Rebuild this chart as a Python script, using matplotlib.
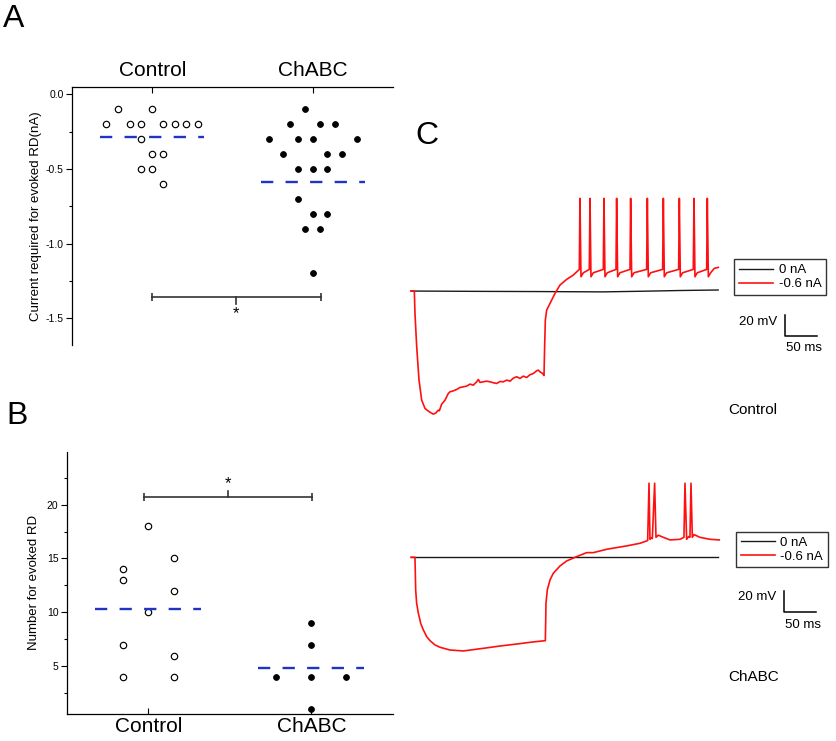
import numpy as np
import matplotlib.pyplot as plt
from matplotlib.ticker import MultipleLocator, FormatStrFormatter
from matplotlib.lines import Line2D

plt.rcParams['font.family'] = ['Liberation Sans', 'DejaVu Sans']
plt.rcParams['axes.unicode_minus'] = False

W, H = 836, 741

###############################################################################
# DATA
###############################################################################
groups = ['Control', 'ChABC']

# panel A: current required for evoked RD (nA), x = group position + jitter
a_ctrl_x = [0.785, 1.0, 0.714, 0.859, 0.93, 1.07, 1.141, 1.213, 1.284,
            0.93, 1.0, 1.07, 0.93, 1.0, 1.07]
a_ctrl_y = [-0.1, -0.1, -0.2, -0.2, -0.2, -0.2, -0.2, -0.2, -0.2,
            -0.3, -0.4, -0.4, -0.5, -0.5, -0.6]
a_chabc_x = [1.952, 1.861, 2.046, 2.137, 1.725, 1.909, 2.0, 2.273,
             1.816, 2.091, 2.182, 1.909, 2.0, 2.091, 1.909, 2.0, 2.091,
             1.952, 2.046, 2.0]
a_chabc_y = [-0.1, -0.2, -0.2, -0.2, -0.3, -0.3, -0.3, -0.3,
             -0.4, -0.4, -0.4, -0.5, -0.5, -0.5, -0.7, -0.8, -0.8,
             -0.9, -0.9, -1.2]
a_means = [-0.287, -0.585]

# panel B: number of evoked RD
b_ctrl_x = [0.843, 0.843, 0.843, 0.843, 1.0, 1.0, 1.16, 1.16, 1.16, 1.16]
b_ctrl_y = [14, 13, 7, 4, 18, 10, 15, 12, 6, 4]
b_chabc_x = [1.785, 2.0, 2.0, 2.0, 2.0, 2.213]
b_chabc_y = [4, 9, 7, 4, 1, 4]
b_means = [10.3, 4.83]

# panel C, Control traces (time ms, membrane potential mV)
c1_t0 = [0, 100, 200, 300, 360, 420, 480]
c1_v0 = [-60, -60.3, -60.5, -60.8, -60.2, -59.5, -59.0]
c1_t = [0, 5.2, 6.2, 8.9, 12.5, 16.7, 21.9, 28.6, 34.9, 39.1, 42.7, 44.3,
        47.9, 53.1, 58.3, 60.9, 66.1, 71.3, 76.6, 81.8, 87.0, 92.2, 97.4,
        102.6, 105.2, 107.8, 113.0, 118.2, 123.4, 128.6, 133.8, 139.1, 144.3,
        149.5, 154.7, 159.9, 165.1, 170.3, 175.5, 180.7, 185.9, 191.1, 196.3,
        198.9, 201.5, 205.7, 207.8,
        208.8, 209.9, 212.0, 217.2, 225.0, 232.8, 243.2, 253.6,
        263.0, 264.0, 265.6, 269.3,
        278.6, 279.7, 281.2, 284.9,
        300.5, 301.5, 303.1, 306.7,
        320.3, 321.3, 322.9, 326.5,
        342.2, 343.2, 344.8, 348.4,
        368.2, 369.3, 370.8, 374.5,
        393.2, 394.3, 395.8, 399.5,
        418.2, 419.3, 420.8, 424.5,
        441.1, 442.2, 443.7, 447.4,
        462.0, 463.0, 464.6, 468.2, 474.0, 480.2]
c1_v = [-60, -60, -81.3, -113.1, -144.8, -163.9, -171.8, -175.0, -177.2,
        -175.9, -173.4, -174.0, -167.7, -163.9, -157.5, -155.9, -155.0,
        -153.7, -151.8, -151.2, -150.5, -148.6, -149.6, -146.4, -144.2,
        -147.0, -146.4, -145.8, -146.4, -147.3, -148.0, -146.1, -146.4,
        -144.8, -145.8, -142.9, -141.6, -143.2, -141.0, -142.3, -139.7,
        -138.5, -135.9, -135.3, -136.9, -138.5, -140.4,
        -113.1, -87.6, -78.1, -71.8, -62.2, -54.3, -48.9, -44.8,
        -39.4, 28.2, -46.4, -42.6,
        -39.4, 28.2, -46.4, -42.6,
        -39.4, 28.2, -46.4, -42.6,
        -39.4, 28.2, -46.4, -42.6,
        -39.4, 28.2, -46.4, -42.6,
        -39.4, 28.2, -46.4, -42.6,
        -39.4, 28.2, -46.4, -42.6,
        -39.4, 28.2, -46.4, -42.6,
        -39.4, 28.2, -46.4, -42.6,
        -39.4, 28.2, -46.4, -42.6, -38.4, -37.5]

# panel C, ChABC traces
c2_t0 = [0, 480]
c2_v0 = [-60, -60]
c2_t = [0, 6.2, 7.3, 8.8, 11.5, 15.1, 19.3, 24.5, 29.7, 37.5, 45.3, 60.9,
        81.8, 113.0, 139.1, 165.1, 191.1, 209.9,
        210.4, 210.9, 213.0, 217.2, 222.4, 232.8, 243.2, 258.8, 274.5,
        284.9, 305.7, 336.9, 357.8, 369.8,
        371.9, 373.4, 375.0, 377.1, 380.7, 382.8, 386.4, 394.3, 404.7,
        420.3, 426.5, 428.1, 430.7, 433.8, 435.9, 437.5, 439.6, 442.2,
        451.5, 467.2, 481.7]
c2_v = [-60, -60, -91.1, -103.8, -113.3, -122.9, -129.2, -135.6, -139.4,
        -143.5, -145.7, -148.3, -149.2, -146.7, -144.5, -142.6, -140.6,
        -139.4,
        -122.9, -103.8, -91.1, -81.6, -75.2, -68.3, -63.5, -59.4, -55.6,
        -55.6, -52.4, -49.2, -46.7, -44.1,
        10.5, -42.9, -41.6, -42.2, 10.5, -41.0, -39.0, -41.0, -43.5,
        -42.9, -41.0, 10.5, -42.9, -40.3, -41.0, 10.5, -41.0, -38.4,
        -41.0, -42.9, -43.5]
legend_labels = ['0 nA', '-0.6 nA']

###############################################################################
fig = plt.figure(figsize=(W / 100, H / 100), dpi=100)


def px_axes(x0, y0, x1, y1):
    return fig.add_axes([x0 / W, 1 - y1 / H, (x1 - x0) / W, (y1 - y0) / H])


MEAN_COLOR = '#1f33c4'
BAR_COLOR = '#333333'
HALF = 0.325


def scatter_panel(ax, cx, cy, hx, hy, means):
    ax.plot(cx, cy, 'o', mfc='white', mec='black', ms=4.6, mew=0.85,
            clip_on=False)
    ax.plot(hx, hy, 'o', mfc='black', mec='black', ms=4.2, mew=0.6,
            clip_on=False)
    for i, m in enumerate(means):
        ax.plot([i + 1 - HALF, i + 1 + HALF], [m, m], color=MEAN_COLOR,
                lw=1.7, dashes=(5.2, 5.2))
    ax.set_xlim(0.5, 2.5)
    ax.spines['right'].set_visible(False)
    for s in ax.spines.values():
        s.set_linewidth(0.9)
    ax.tick_params(axis='y', direction='out', length=4, width=0.8,
                   labelsize=7.5, pad=2)
    ax.tick_params(axis='y', which='minor', direction='out', length=2.5,
                   width=0.8)


############################ panel A ##########################################
axA = px_axes(72, 87, 393, 345)
scatter_panel(axA, a_ctrl_x, a_ctrl_y, a_chabc_x, a_chabc_y, a_means)
axA.set_ylim(-1.679, 0.049)
axA.spines['bottom'].set_visible(False)
axA.xaxis.set_ticks_position('top')
axA.set_xticks([1, 2], groups)
axA.tick_params(axis='x', direction='in', length=4, width=0.8,
                labelsize=15, pad=5)
axA.yaxis.set_major_locator(MultipleLocator(0.5))
axA.yaxis.set_minor_locator(MultipleLocator(0.25))
axA.yaxis.set_major_formatter(FormatStrFormatter('%.1f'))
axA.set_ylabel('Current required for evoked RD(nA)', fontsize=9.5,
               labelpad=3)
# significance bar
axA.plot([1.0, 2.05], [-1.36, -1.36], color=BAR_COLOR, lw=1.2,
         marker='|', ms=6, mew=1.2)
axA.plot([1.52, 1.52], [-1.36, -1.405], color=BAR_COLOR, lw=1.2)
axA.text(1.52, -1.47, '*', ha='center', va='center', fontsize=12)

############################ panel B ##########################################
axB = px_axes(66.7, 451.7, 393, 714)
scatter_panel(axB, b_ctrl_x, b_ctrl_y, b_chabc_x, b_chabc_y, b_means)
axB.set_ylim(0.58, 24.9)
axB.spines['top'].set_visible(False)
axB.set_xticks([1, 2], groups)
axB.tick_params(axis='x', direction='in', length=4, width=0.8,
                labelsize=15, pad=2)
axB.yaxis.set_major_locator(MultipleLocator(5))
axB.yaxis.set_minor_locator(MultipleLocator(2.5))
axB.set_yticks([5, 10, 15, 20])
axB.set_ylabel('Number for evoked RD', fontsize=9.5, labelpad=5)
axB.plot([0.976, 2.006], [20.74, 20.74], color=BAR_COLOR, lw=1.2,
         marker='|', ms=6, mew=1.2)
axB.plot([1.49, 1.49], [20.74, 21.3], color=BAR_COLOR, lw=1.2)
axB.text(1.49, 21.95, '*', ha='center', va='center', fontsize=12)

############################ panel C ##########################################
def trace_panel(ax, t0, v0, t, v, ylim, leg_px, bar_t, bar_v, txt_mv, txt_ms,
                name, name_v):
    ax.plot(t0, v0, color='#1a1a1a', lw=1.0)
    ax.plot(t, v, color='#ff1010', lw=1.2)
    ax.set_xlim(-17.2, 664.1)
    ax.set_ylim(*ylim)
    ax.axis('off')
    handles = [Line2D([], [], color='#1a1a1a', lw=1.0),
               Line2D([], [], color='#ff1010', lw=1.2)]
    leg = ax.legend(handles, legend_labels, loc='upper left',
                    bbox_to_anchor=(leg_px[0] / W, 1 - leg_px[1] / H),
                    bbox_transform=fig.transFigure, fancybox=False,
                    framealpha=1, edgecolor='#333333', fontsize=9.5,
                    handlelength=2.6, handletextpad=0.4, labelspacing=0.15,
                    borderpad=0.35, borderaxespad=0)
    leg.get_frame().set_linewidth(1.0)
    # scale bar: 20 mV, 50 ms
    ax.plot([bar_t, bar_t, bar_t + 50], [bar_v + 20, bar_v, bar_v],
            color='black', lw=1.1, clip_on=False)
    ax.text(bar_t - 12, txt_mv, '20 mV', ha='right', va='center',
            fontsize=9.5)
    ax.text(bar_t + 30, txt_ms, '50 ms', ha='center', va='center',
            fontsize=9.5)
    ax.text(495, name_v, name, ha='left', va='center', fontsize=11)


axC1 = px_axes(400, 180, 836, 440)
trace_panel(axC1, c1_t0, c1_v0, c1_t, c1_v, (-201.8, 45.7), (734.3, 259.3),
            584.4, -102.8, -89.2, -114.3, 'Control', -173.3)

axC2 = px_axes(400, 460, 836, 700)
trace_panel(axC2, c2_t0, c2_v0, c2_t, c2_v, (-195.9, 32.6), (736, 531.7),
            583.3, -112.4, -98.2, -124.8, 'ChABC', -174.0)

############################ panel letters ####################################
fig.text(3 / W, 1 - 4 / H, 'A', fontsize=23, va='top', ha='left')
fig.text(6 / W, 1 - 401 / H, 'B', fontsize=23, va='top', ha='left')
fig.text(415 / W, 1 - 121 / H, 'C', fontsize=23, va='top', ha='left')

fig.savefig('out.png', dpi=100)
